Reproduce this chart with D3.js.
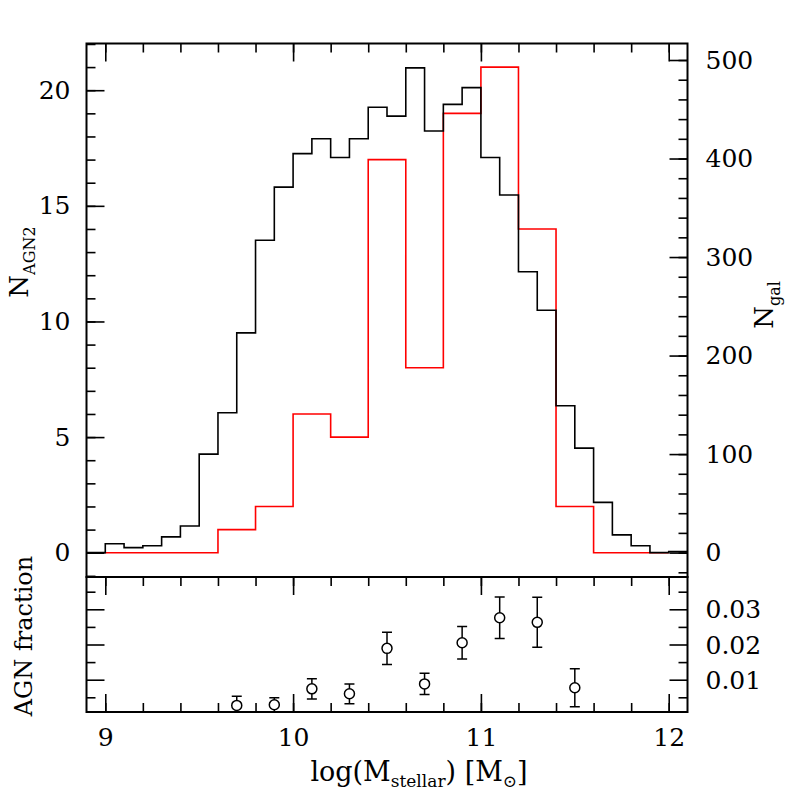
<!DOCTYPE html>
<html>
<head>
<meta charset="utf-8">
<script src="https://cdn.jsdelivr.net/npm/d3@7"></script>
<style>
body { margin: 0; background: #fff; }
svg { display: block; }
</style>
</head>
<body>
<svg id="plotCanvas" width="797" height="797"></svg>
<script>
// galaxies per 0.1 dex bin (lower edges), right axis
var galBins = [8.9, 9.0, 9.1, 9.2, 9.3, 9.4, 9.5, 9.6, 9.7, 9.8, 9.9, 10.0, 10.1, 10.2, 10.3, 10.4,
               10.5, 10.6, 10.7, 10.8, 10.9, 11.0, 11.1, 11.2, 11.3, 11.4, 11.5, 11.6, 11.7, 11.8, 11.9, 12.0];
var galCounts = [0, 9, 5, 7, 16, 27, 100, 142, 223, 317, 371, 405, 420, 401, 420, 452,
                 443, 492, 428, 455, 472, 401, 363, 285, 246, 149, 106, 51, 18, 7, 0, 1];
var galWidth = 0.1;

// AGN2 per 0.2 dex bin, left axis
var agnBins = [9.0, 9.2, 9.4, 9.6, 9.8, 10.0, 10.2, 10.4, 10.6, 10.8, 11.0, 11.2, 11.4, 11.6, 11.8];
var agnCounts = [0, 0, 0, 1, 2, 6, 5, 17, 8, 19, 21, 14, 2, 0, 0];
var agnWidth = 0.2;

// AGN fraction, bottom panel
var fracMass = [9.7, 9.9, 10.1, 10.3, 10.5, 10.7, 10.9, 11.1, 11.3, 11.5];
var fracValue = [0.0027, 0.0029, 0.0074, 0.0060, 0.0189, 0.0088, 0.0205, 0.0276, 0.0263, 0.0077];
var fracErr = [0.0026, 0.0020, 0.0029, 0.0028, 0.0046, 0.0030, 0.0046, 0.0059, 0.0071, 0.0054];

var xMajor = [9, 10, 11, 12];
var agnMajor = [0, 5, 10, 15, 20];
var galMajor = [0, 100, 200, 300, 400, 500];
var fracMajor = [0.01, 0.02, 0.03];

var fontFam = "'DejaVu Serif', serif";
// note: "top" is a read-only window property, so frame edges get their own names
var frameL = 86.5, frameR = 687.5, frameT = 43.5, frameMid = 577, frameB = 712;

var canvas = d3.select("#plotCanvas");

var x = d3.scaleLinear().domain([8.9, 12.1]).range([frameL, frameR]);
var yAgn = d3.scaleLinear().domain([-1.05, 22.02]).range([frameMid, frameT]);
var yGal = d3.scaleLinear().domain([0, 500]).range([552.6, 60]);
var yFrac = d3.scaleLinear().domain([0, 0.01]).range([714.9, 679.7]);

function inRange(scale, lo, hi) {
    return function(v) { var p = scale(v); return p >= lo - 0.5 && p <= hi + 0.5; };
}

function drawAxis(axisFn, scale, pos, major, minor, len, pad, labels) {
    var gMin = canvas.append("g")
        .attr("transform", pos)
        .call(axisFn(scale).tickValues(minor).tickSizeInner(-9).tickSizeOuter(0).tickFormat(""));
    var gMaj = canvas.append("g")
        .attr("transform", pos)
        .call(axisFn(scale).tickValues(major).tickSizeInner(-len).tickSizeOuter(0).tickPadding(pad)
            .tickFormat(labels ? d3.format("") : ""));
    [gMin, gMaj].forEach(function(g) {
        g.select(".domain").remove();
        g.selectAll("line").attr("stroke", "#000").attr("stroke-width", 1.6);
        g.selectAll("text").attr("font-family", fontFam).attr("font-size", 25).attr("fill", "#000");
    });
}

var xMinor = d3.range(9, 12.05, 0.2).map(function(v) { return +v.toFixed(1); });

// top panel x ticks (top edge only)
drawAxis(d3.axisTop, x, "translate(0," + frameT + ")", xMajor, xMinor, 18, 0, false);
// bottom panel x ticks
drawAxis(d3.axisTop, x, "translate(0," + frameMid + ")", xMajor, xMinor, 18, 0, false);
drawAxis(d3.axisBottom, x, "translate(0," + frameB + ")", xMajor, xMinor, 18, 16, true);

// left axis, top panel
var agnMinor = d3.range(-1, 23, 1).filter(inRange(yAgn, frameT, frameMid));
drawAxis(d3.axisLeft, yAgn, "translate(" + frameL + ",0)", agnMajor, agnMinor, 18, 16, true);

// right axis, top panel
var galMinor = d3.range(-20, 521, 20).filter(inRange(yGal, frameT, frameMid));
drawAxis(d3.axisRight, yGal, "translate(" + frameR + ",0)", galMajor, galMinor, 18, 18, true);

// bottom panel y ticks
var fracMinor = [0.005, 0.015, 0.025, 0.035];
drawAxis(d3.axisLeft, yFrac, "translate(" + frameL + ",0)", fracMajor, fracMinor, 18, 0, false);
drawAxis(d3.axisRight, yFrac, "translate(" + frameR + ",0)", fracMajor, fracMinor, 18, 18, false);
canvas.append("g").selectAll("text")
    .data(fracMajor).enter().append("text")
    .attr("x", frameR + 18)
    .attr("y", function(d) { return yFrac(d); })
    .attr("dy", "0.36em")
    .attr("font-family", fontFam)
    .attr("font-size", 25)
    .text(function(d) { return d.toFixed(2); });

// histograms
function stepPoints(bins, counts, w) {
    var pts = bins.map(function(b, i) { return [b, counts[i]]; });
    pts.push([bins[bins.length - 1] + w, counts[counts.length - 1]]);
    return pts;
}

var clipTop = canvas.append("clipPath").attr("id", "clipTop");
clipTop.append("rect").attr("x", frameL).attr("y", frameT).attr("width", frameR - frameL).attr("height", frameMid - frameT);

canvas.append("path")
    .datum(stepPoints(agnBins, agnCounts, agnWidth))
    .attr("clip-path", "url(#clipTop)")
    .attr("fill", "none")
    .attr("stroke", "#ff0000")
    .attr("stroke-width", 1.6)
    .attr("d", d3.line().curve(d3.curveStepAfter)
        .x(function(d) { return x(d[0]); })
        .y(function(d) { return yAgn(d[1]); }));

canvas.append("path")
    .datum(stepPoints(galBins, galCounts, galWidth))
    .attr("clip-path", "url(#clipTop)")
    .attr("fill", "none")
    .attr("stroke", "#000")
    .attr("stroke-width", 1.6)
    .attr("d", d3.line().curve(d3.curveStepAfter)
        .x(function(d) { return x(d[0]); })
        .y(function(d) { return yGal(d[1]); }));

// fraction points with error bars
var clipBot = canvas.append("clipPath").attr("id", "clipBot");
clipBot.append("rect").attr("x", frameL).attr("y", frameMid).attr("width", frameR - frameL).attr("height", frameB - frameMid);

var pts = canvas.append("g").attr("clip-path", "url(#clipBot)")
    .selectAll("g").data(fracMass).enter().append("g");

pts.append("line")
    .attr("x1", function(d) { return x(d); })
    .attr("x2", function(d) { return x(d); })
    .attr("y1", function(d, i) { return yFrac(fracValue[i] - fracErr[i]); })
    .attr("y2", function(d, i) { return yFrac(fracValue[i] + fracErr[i]); })
    .attr("stroke", "#000").attr("stroke-width", 1.5);
pts.append("line")
    .attr("x1", function(d) { return x(d) - 5; })
    .attr("x2", function(d) { return x(d) + 5; })
    .attr("y1", function(d, i) { return yFrac(fracValue[i] + fracErr[i]); })
    .attr("y2", function(d, i) { return yFrac(fracValue[i] + fracErr[i]); })
    .attr("stroke", "#000").attr("stroke-width", 1.5);
pts.append("line")
    .attr("x1", function(d) { return x(d) - 5; })
    .attr("x2", function(d) { return x(d) + 5; })
    .attr("y1", function(d, i) { return yFrac(fracValue[i] - fracErr[i]); })
    .attr("y2", function(d, i) { return yFrac(fracValue[i] - fracErr[i]); })
    .attr("stroke", "#000").attr("stroke-width", 1.5);
pts.append("circle")
    .attr("cx", function(d) { return x(d); })
    .attr("cy", function(d, i) { return yFrac(fracValue[i]); })
    .attr("r", 5)
    .attr("fill", "#fff")
    .attr("stroke", "#000").attr("stroke-width", 1.5);

// frames
canvas.append("rect")
    .attr("x", frameL).attr("y", frameT).attr("width", frameR - frameL).attr("height", frameMid - frameT)
    .attr("fill", "none").attr("stroke", "#000").attr("stroke-width", 2);
canvas.append("rect")
    .attr("x", frameL).attr("y", frameMid).attr("width", frameR - frameL).attr("height", frameB - frameMid)
    .attr("fill", "none").attr("stroke", "#000").attr("stroke-width", 2);

// axis titles
var t1 = canvas.append("text")
    .attr("transform", "translate(28,262) rotate(-90)")
    .attr("text-anchor", "middle")
    .attr("font-family", fontFam)
    .attr("font-size", 26);
t1.append("tspan").text("N");
t1.append("tspan").attr("font-size", 16).attr("dy", 7).text("AGN2");

canvas.append("text")
    .attr("transform", "translate(32,636) rotate(-90)")
    .attr("text-anchor", "middle")
    .attr("font-family", fontFam)
    .attr("font-size", 24)
    .text("AGN fraction");

var t2 = canvas.append("text")
    .attr("transform", "translate(773,305) rotate(-90)")
    .attr("text-anchor", "middle")
    .attr("font-family", fontFam)
    .attr("font-size", 26);
t2.append("tspan").text("N");
t2.append("tspan").attr("font-size", 16).attr("dy", 7).text("gal");

var t3 = canvas.append("text")
    .attr("x", 419)
    .attr("y", 781)
    .attr("text-anchor", "middle")
    .attr("font-family", fontFam)
    .attr("font-size", 27);
t3.append("tspan").text("log(M");
t3.append("tspan").attr("font-size", 17).attr("dy", 6).text("stellar");
t3.append("tspan").attr("dy", -6).text(") [M");
t3.append("tspan").attr("font-size", 17).attr("dy", 6).text("\u2299");
t3.append("tspan").attr("dy", -6).text("]");
</script>
</body>
</html>
